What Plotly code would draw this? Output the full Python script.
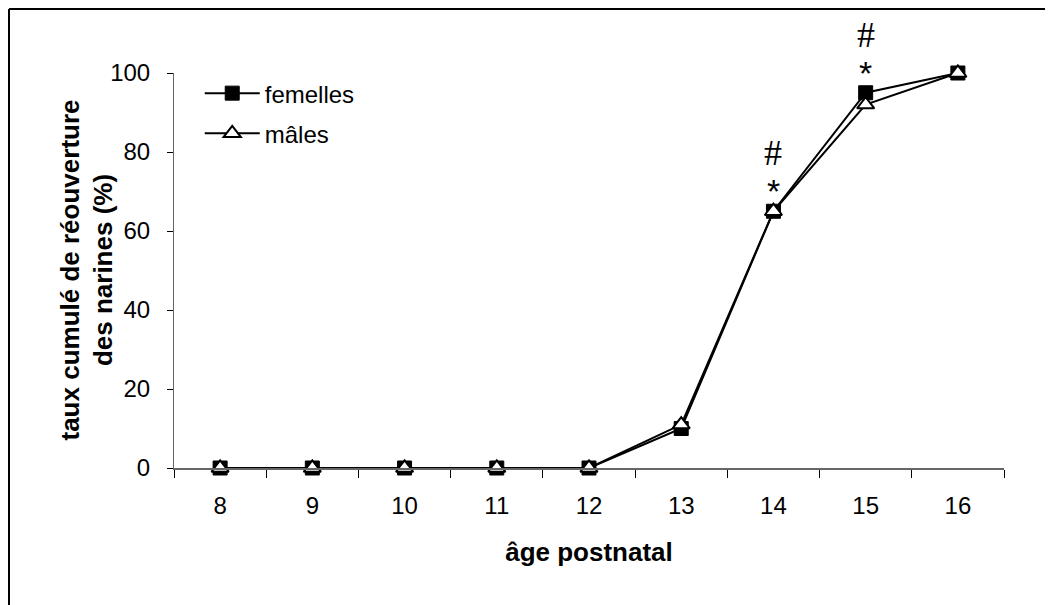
import plotly.graph_objects as go

# âge postnatal (jours)
ages = ["8", "9", "10", "11", "12", "13", "14", "15", "16"]

# taux cumulé de réouverture des narines (%)
femelles = [0, 0, 0, 0, 0, 10, 65, 95, 100]
males = [0, 0, 0, 0, 0, 11, 65, 92, 100]

# marques de significativité (posées au-dessus du point femelles)
sig_ages = ["14", "15"]

# la page html ajoute une marge de 8px autour de la figure
W, H = 1045, 597
L, R, T, B = 166, 49, 65, 137

fig = go.Figure()

fig.add_trace(go.Scatter(
    x=ages, y=femelles, name="femelles", mode="lines+markers",
    line=dict(color="black", width=2),
    marker=dict(symbol="square", size=14, color="black",
                line=dict(color="black", width=1)),
    legendgroup="f", cliponaxis=False,
))
fig.add_trace(go.Scatter(
    x=ages, y=males, name="mâles", mode="lines+markers",
    line=dict(color="black", width=2),
    marker=dict(symbol="triangle-up", size=15, color="white",
                line=dict(color="black", width=2)),
    legendgroup="m", cliponaxis=False,
))

for a in sig_ages:
    i = ages.index(a)
    fig.add_annotation(x=i, y=femelles[i], text="*", showarrow=False, yshift=20,
                       font=dict(family="Liberation Sans", size=34, color="black"))
    fig.add_annotation(x=i, y=femelles[i], text="#", showarrow=False, yshift=58,
                       font=dict(family="Liberation Serif", size=36, color="black"))

pw, ph = W - L - R, H - T - B

# titre de l'axe y, placé à la main
fig.add_annotation(xref="paper", yref="paper", x=(78 - L) / pw, y=0.5,
                   xanchor="center", yanchor="middle", textangle=-90,
                   showarrow=False,
                   text="<b>taux cumulé de réouverture<br>des narines (%)</b>",
                   font=dict(size=26, color="black"))

# cadre (seuls les bords haut et gauche sont visibles)
x0 = (1 - L) / pw
y0 = (H - B - 1) / ph
fig.add_shape(type="line", xref="paper", yref="paper",
              x0=x0, x1=(W + 5 - L) / pw, y0=y0, y1=y0,
              line=dict(color="black", width=2))
fig.add_shape(type="line", xref="paper", yref="paper",
              x0=x0, x1=x0, y0=y0, y1=-(B + 5) / ph,
              line=dict(color="black", width=2))

fig.update_layout(
    width=W, height=H,
    margin=dict(l=L, r=R, t=T, b=B),
    paper_bgcolor="white", plot_bgcolor="white",
    font=dict(family="Liberation Sans", size=24, color="black"),
    showlegend=True,
    legend=dict(x=0.031, y=1.005, xanchor="left", yanchor="top",
                bgcolor="rgba(0,0,0,0)", itemwidth=55, tracegroupgap=6,
                font=dict(size=24)),
    xaxis=dict(
        type="category", range=[-0.5, 8.5],
        title=dict(text="<b>âge postnatal</b>", font=dict(size=26), standoff=25),
        showline=True, linecolor="#666666", linewidth=1.5,
        ticks="outside", ticklen=8, tickcolor="black", tickson="boundaries",
        ticklabelstandoff=15,
        showgrid=False, zeroline=False,
    ),
    yaxis=dict(
        range=[0, 100], tickvals=[0, 20, 40, 60, 80, 100],
        showline=True, linecolor="#666666", linewidth=1,
        ticks="outside", ticklen=6, tickcolor="black",
        ticklabelstandoff=12,
        showgrid=False, zeroline=False,
    ),
    yaxis2=dict(
        overlaying="y", range=[0, 100], tickvals=[0, 20, 40, 60, 80, 100],
        ticks="inside", ticklen=6, tickcolor="black",
        showticklabels=False, showline=False, showgrid=False, zeroline=False,
    ),
)

fig.write_html("out.html")
